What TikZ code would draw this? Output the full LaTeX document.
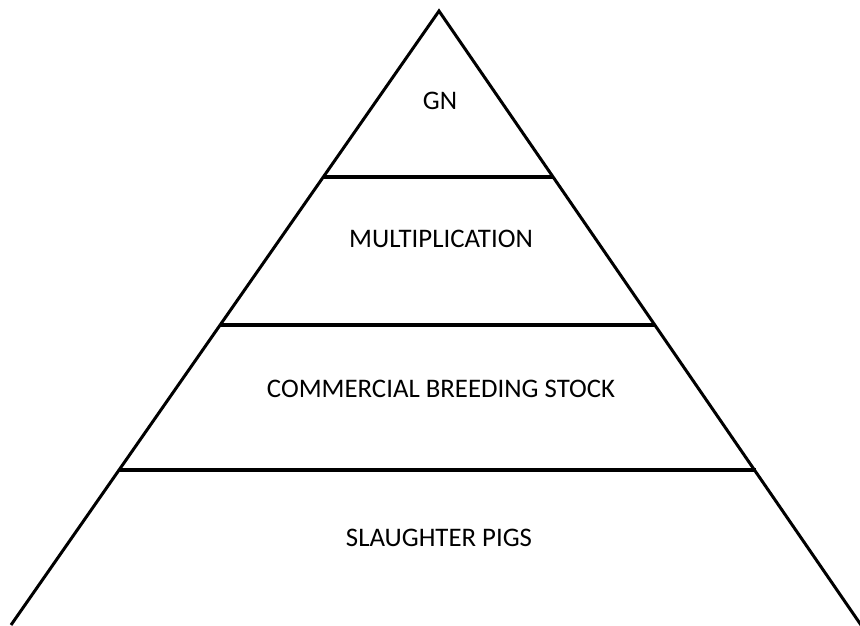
\documentclass[tikz,border=0pt]{standalone}
\usepackage{fontspec}
\setmainfont{Carlito}
\begin{document}
\begin{tikzpicture}[x=1pt,y=-1pt,
  side/.style={line width=3pt},
  tier/.style={line width=4pt},
  label/.style={anchor=base,inner sep=0pt,font=\fontsize{26.8}{30}\selectfont}]
\useasboundingbox (0,0) rectangle (860,625);
% outline of the pyramid
\coordinate (apex) at (439,11);
\coordinate (bl) at (11,625);
\coordinate (br) at (861,625);
\draw[side,line join=miter] (bl) -- (apex) -- (br);
% tier dividers
\coordinate (l1) at (323,177);  \coordinate (r1) at (553,177);
\coordinate (l2) at (220,325);  \coordinate (r2) at (655,325);
\coordinate (l3) at (119,470);  \coordinate (r3) at (756,470);
\draw[tier] (l1) -- (r1);
\draw[tier] (l2) -- (r2);
\draw[tier] (l3) -- (r3);
% tier labels
\node[label] (gn) at (440,109) {GN};
\node[label] (mult) at (441,247) {MULTIPLICATION};
\node[label] (comm) at (441,397) {COMMERCIAL BREEDING STOCK};
\node[label] (slaughter) at (439,546) {SLAUGHTER PIGS};
\end{tikzpicture}
\end{document}
